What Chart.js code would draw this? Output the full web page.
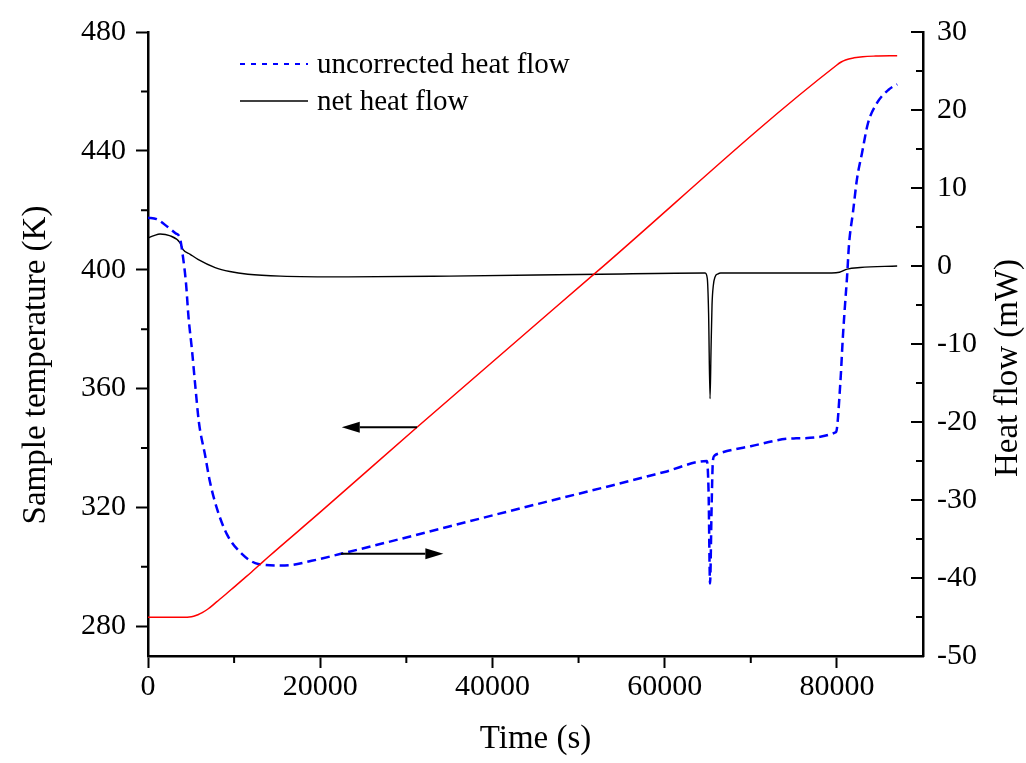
<!DOCTYPE html>
<html>
<head>
<meta charset="utf-8">
<script src="https://cdn.jsdelivr.net/npm/chart.js@4.4.0/dist/chart.umd.min.js"></script>
<style>
  html, body { margin: 0; padding: 0; background: #fff; }
  #wrap { width: 1026px; height: 763px; }
</style>
</head>
<body>
<div id="wrap"><canvas id="mycanvas" width="1026" height="763"></canvas></div>
<script>
// sample temperature (K) vs time (s)
var timeTemp = [0, 4300, 4800, 5300, 5800, 6300, 7000, 8000, 9000, 10000, 11000, 12000, 13000, 14000, 20000, 31240, 52000, 80000, 80500, 81000, 82000, 83000, 84500, 87000];
var sampleTemp = [283, 283, 283.1, 283.4, 283.9, 284.6, 285.9, 288.3, 290.7, 293.2, 295.7, 298.2, 300.8, 303.4, 318.4, 347.0, 399.0, 468.9, 469.9, 470.6, 471.3, 471.7, 471.9, 472];

// uncorrected heat flow (mW)
var timeRaw = [0, 1000, 2300, 3200, 3700, 4070, 4420, 4700, 5110, 5460, 5920, 6620, 7200, 8010, 9170, 10900, 12800, 15900, 19000, 22400, 30000, 38500, 46000, 54000, 60000, 64900, 65100, 65270, 65450, 65600, 65800, 66400, 70000, 75000, 79900, 80400, 80700, 80950, 81180, 81410, 81870, 82340, 82920, 83610, 84660, 86000, 87000];
var rawHeat = [6.2, 6.0, 5.0, 4.2, 3.6, 1.1, -2.3, -6.5, -10.8, -15.0, -20.1, -24.2, -27.7, -31.1, -34.4, -36.9, -38.2, -38.4, -37.8, -36.9, -34.8, -32.4, -30.3, -28.1, -26.4, -25.0, -29.0, -40.7, -31.0, -25.0, -24.3, -24.0, -23.1, -22.1, -21.3, -15.0, -9.0, -4.9, -1.4, 2.8, 6.9, 11.2, 14.5, 18.3, 20.9, 22.6, 23.3];

// net heat flow (mW)
var timeNet = [0, 700, 1400, 2500, 3700, 4070, 4900, 5800, 7800, 9500, 11600, 15400, 23200, 35000, 52500, 64700, 64950, 65100, 65270, 65380, 65500, 65650, 65850, 66200, 66500, 79400, 80300, 81200, 82700, 87000];
var netHeat = [3.6, 3.9, 4.1, 3.9, 3.0, 2.1, 1.5, 0.85, -0.2, -0.7, -1.05, -1.3, -1.4, -1.3, -1.05, -0.9, -1.6, -6.0, -17.0, -11.0, -5.0, -2.5, -1.4, -1.0, -0.9, -0.9, -0.8, -0.4, -0.2, 0.0];

var xMajor = [0, 20000, 40000, 60000, 80000];
var xMinor = [10000, 30000, 50000, 70000];
var tempMajor = [280, 320, 360, 400, 440, 480];
var tempMinor = [300, 340, 380, 420, 460];
var heatMajor = [-50, -40, -30, -20, -10, 0, 10, 20, 30];
var heatMinor = [-45, -35, -25, -15, -5, 5, 15, 25];

// arrows pointing to the axis each curve belongs to: [x1, y1, x2, y2]
var tempArrow = [31240, 347, 22500, 347];
var heatArrow = [22400, -36.9, 34300, -36.9];

var serif = '"Liberation Serif", "Times New Roman", serif';

function pts(xs, ys) {
  var out = [];
  for (var i = 0; i < xs.length; i++) out.push({x: xs[i], y: ys[i]});
  return out;
}

function arrow(ctx, x1, y1, x2, y2) {
  var ang = Math.atan2(y2 - y1, x2 - x1);
  var len = 18, half = 5.5;
  var bx = x2 - len * Math.cos(ang), by = y2 - len * Math.sin(ang);
  ctx.beginPath();
  ctx.moveTo(x1, y1);
  ctx.lineTo(bx, by);
  ctx.stroke();
  ctx.beginPath();
  ctx.moveTo(x2, y2);
  ctx.lineTo(bx + half * Math.sin(ang), by - half * Math.cos(ang));
  ctx.lineTo(bx - half * Math.sin(ang), by + half * Math.cos(ang));
  ctx.closePath();
  ctx.fill();
}

var extras = {
  id: 'extras',
  afterDraw: function(chart) {
    var ctx = chart.ctx;
    var x = chart.scales.x, yl = chart.scales.y, yr = chart.scales.y1;
    ctx.save();
    ctx.strokeStyle = '#000';
    ctx.fillStyle = '#000';
    ctx.lineWidth = 2;

    // minor ticks, and right axis ticks which point inward
    ctx.beginPath();
    xMinor.forEach(function(v) {
      var px = x.getPixelForValue(v);
      ctx.moveTo(px, x.top); ctx.lineTo(px, x.top + 7);
    });
    tempMinor.forEach(function(v) {
      var py = yl.getPixelForValue(v);
      ctx.moveTo(yl.right, py); ctx.lineTo(yl.right - 7, py);
    });
    heatMajor.forEach(function(v) {
      var py = yr.getPixelForValue(v);
      ctx.moveTo(yr.left, py); ctx.lineTo(yr.left - 12, py);
    });
    heatMinor.forEach(function(v) {
      var py = yr.getPixelForValue(v);
      ctx.moveTo(yr.left, py); ctx.lineTo(yr.left - 7, py);
    });
    ctx.stroke();

    // arrows
    ctx.lineWidth = 2;
    arrow(ctx, x.getPixelForValue(tempArrow[0]), yl.getPixelForValue(tempArrow[1]),
               x.getPixelForValue(tempArrow[2]), yl.getPixelForValue(tempArrow[3]));
    arrow(ctx, x.getPixelForValue(heatArrow[0]), yr.getPixelForValue(heatArrow[1]),
               x.getPixelForValue(heatArrow[2]), yr.getPixelForValue(heatArrow[3]));

    // legend
    ctx.font = '29px ' + serif;
    ctx.textBaseline = 'middle';
    ctx.textAlign = 'left';
    var row = 0;
    chart.data.datasets.forEach(function(ds) {
      if (!ds.inLegend) return;
      var ly = 64 + row * 37;
      ctx.save();
      ctx.strokeStyle = ds.borderColor;
      ctx.lineWidth = ds.borderDash ? 2 : 1.5;
      ctx.setLineDash(ds.borderDash ? [5, 6] : []);
      ctx.beginPath();
      ctx.moveTo(240, ly); ctx.lineTo(308, ly);
      ctx.stroke();
      ctx.restore();
      ctx.fillText(ds.label, 317, ly + 1);
      row++;
    });

    // vertical axis titles
    ctx.font = '33px ' + serif;
    ctx.textAlign = 'center';
    ctx.save();
    ctx.translate(36, 365);
    ctx.rotate(-Math.PI / 2);
    ctx.fillText('Sample temperature (K)', 0, 0);
    ctx.restore();
    ctx.save();
    ctx.translate(1008, 368);
    ctx.rotate(-Math.PI / 2);
    ctx.fillText('Heat flow (mW)', 0, 0);
    ctx.restore();

    ctx.restore();
  }
};

var chartdata = {
  datasets: [
    {
      label: 'sample temperature',
      data: pts(timeTemp, sampleTemp),
      yAxisID: 'y',
      borderColor: '#ff0000',
      borderWidth: 1.5,
      pointRadius: 0,
      cubicInterpolationMode: 'monotone',
      inLegend: false
    },
    {
      label: 'uncorrected heat flow',
      data: pts(timeRaw, rawHeat),
      yAxisID: 'y1',
      borderColor: '#0000ff',
      borderWidth: 2.5,
      borderDash: [9, 5],
      pointRadius: 0,
      cubicInterpolationMode: 'monotone',
      inLegend: true
    },
    {
      label: 'net heat flow',
      data: pts(timeNet, netHeat),
      yAxisID: 'y1',
      borderColor: '#000000',
      borderWidth: 1.4,
      pointRadius: 0,
      cubicInterpolationMode: 'monotone',
      inLegend: true
    }
  ]
};

var tickFont = {family: serif, size: 30};

var ctx = document.getElementById('mycanvas');
var chart = new Chart(ctx, {
  type: 'line',
  data: chartdata,
  plugins: [extras],
  options: {
    responsive: false,
    animation: false,
    devicePixelRatio: 1,
    layout: {padding: {top: 25, left: 0, right: 0, bottom: 0}},
    plugins: {legend: {display: false}, tooltip: {enabled: false}},
    scales: {
      x: {
        type: 'linear',
        position: 'bottom',
        min: 0,
        max: 90000,
        afterBuildTicks: function(scale) { scale.ticks = xMajor.map(function(v) { return {value: v}; }); },
        afterFit: function(scale) { scale.height = 107; },
        grid: {drawOnChartArea: false, drawTicks: true, tickLength: 12, tickWidth: 2, color: '#000'},
        border: {display: true, color: '#000', width: 2.5},
        ticks: {autoSkip: false, maxRotation: 0, color: '#000', font: tickFont, padding: 1,
                callback: function(v) { return String(v); }},
        title: {display: true, text: 'Time (s)', color: '#000', font: {family: serif, size: 33}, padding: {top: 0, bottom: 4}}
      },
      y: {
        type: 'linear',
        position: 'left',
        min: 270,
        max: 480,
        afterBuildTicks: function(scale) { scale.ticks = tempMajor.map(function(v) { return {value: v}; }); },
        afterFit: function(scale) { scale.width = 148; },
        grid: {drawOnChartArea: false, drawTicks: true, tickLength: 12, tickWidth: 2, color: '#000'},
        border: {display: true, color: '#000', width: 2.5},
        ticks: {autoSkip: false, color: '#000', font: tickFont, padding: 10}
      },
      y1: {
        type: 'linear',
        position: 'right',
        min: -50,
        max: 30,
        afterBuildTicks: function(scale) { scale.ticks = heatMajor.map(function(v) { return {value: v}; }); },
        afterFit: function(scale) { scale.width = 103; },
        grid: {drawOnChartArea: false, drawTicks: false, color: '#000'},
        border: {display: true, color: '#000', width: 2.5},
        ticks: {autoSkip: false, color: '#000', font: tickFont, padding: 14}
      }
    }
  }
});
</script>
</body>
</html>
